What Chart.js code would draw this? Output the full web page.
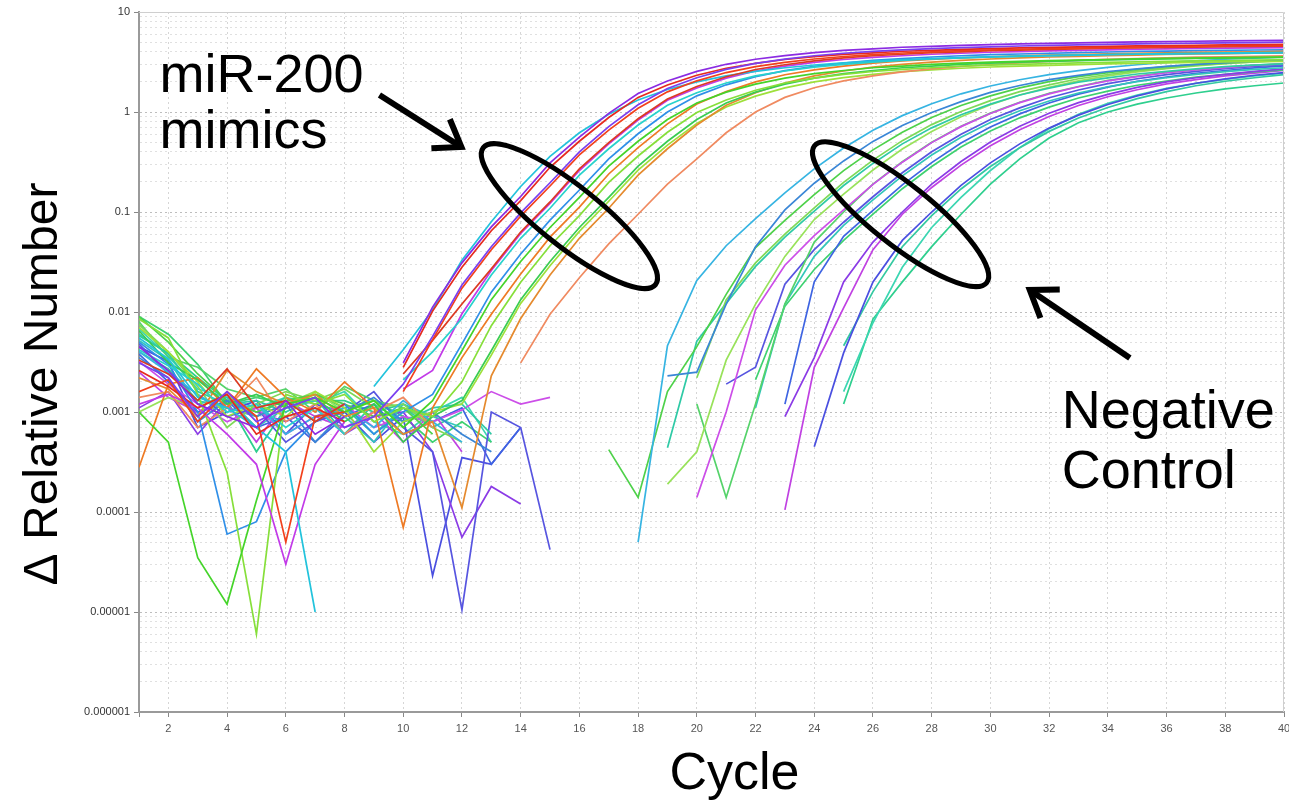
<!DOCTYPE html>
<html>
<head>
<meta charset="utf-8">
<title>miR-200 mimics vs negative control - amplification</title>
<script src="https://cdn.jsdelivr.net/npm/chart.js@4.4.1/dist/chart.umd.min.js"></script>
<style>
  html, body { margin: 0; padding: 0; background: #fff; }
  canvas { display: block; }
</style>
</head>
<body>
<canvas id="chart" width="1289" height="803"></canvas>
<script>
// x axis: PCR cycle
const cycles = [1, 2, 3, 4, 5, 6, 7, 8, 9, 10, 11, 12, 13, 14, 15, 16, 17, 18, 19, 20,
                21, 22, 23, 24, 25, 26, 27, 28, 29, 30, 31, 32, 33, 34, 35, 36, 37, 38, 39, 40];
const yTickLabels = ['0.000001', '0.00001', '0.0001', '0.001', '0.01', '0.1', '1', '10'];

// miR-200 mimic wells (delta relative number per cycle, null = not plotted)
const mimic01 = [4.5e-3, 2.6e-3, 1.2e-3, 9e-4, 7e-4, 1.3e-3, 6e-4, 9e-4, null, 0.0031, 0.0112, 0.031, 0.071, 0.143, 0.31, 0.56, 0.97, 1.53, 2.04, 2.55, 3.0, 3.37, 3.67, 3.93, 4.13, 4.28, 4.44, 4.54, 4.64, 4.71, 4.79, 4.86, 4.92, 4.97, 5.02, 5.06, 5.1, 5.14, 5.17, 5.2];
const mimic02 = [3.1e-3, 2.2e-3, 9e-4, 1.6e-3, 8e-4, 1.1e-3, 1.4e-3, 7e-4, 9e-4, 0.0019, 0.0057, 0.0186, 0.045, 0.098, 0.196, 0.40, 0.715, 1.18, 1.72, 2.2, 2.67, 3.06, 3.38, 3.65, 3.87, 4.04, 4.19, 4.31, 4.41, 4.49, 4.57, 4.64, 4.69, 4.75, 4.8, 4.84, 4.88, 4.92, 4.95, 4.99];
const mimic03 = [2.6e-3, 1.8e-3, 1.1e-3, 1.5e-3, 6e-4, 9e-4, 1.1e-3, 8e-4, null, 0.0028, 0.0102, 0.028, 0.065, 0.13, 0.28, 0.51, 0.88, 1.4, 1.86, 2.33, 2.74, 3.07, 3.35, 3.58, 3.77, 3.91, 4.05, 4.14, 4.23, 4.3, 4.37, 4.43, 4.48, 4.53, 4.58, 4.61, 4.65, 4.69, 4.72, 4.74];
const mimic04 = [1.6e-3, 2.1e-3, 8e-4, 1.6e-3, 9e-4, 5e-5, 9e-4, 1.0e-3, null, 0.0016, 0.0053, 0.0173, 0.042, 0.091, 0.182, 0.373, 0.66, 1.09, 1.59, 2.05, 2.48, 2.84, 3.14, 3.39, 3.59, 3.75, 3.89, 4.0, 4.1, 4.17, 4.24, 4.3, 4.36, 4.41, 4.46, 4.5, 4.53, 4.57, 4.6, 4.63];
const mimic05 = [3.3e-3, 2.4e-3, 1.3e-3, 2.7e-3, 1.1e-3, 1.3e-3, 8e-4, 1.2e-3, null, 0.0024, 0.0052, 0.012, 0.027, 0.063, 0.126, 0.27, 0.495, 0.855, 1.35, 1.8, 2.25, 2.66, 2.97, 3.24, 3.47, 3.65, 3.78, 3.92, 4.0, 4.1, 4.16, 4.23, 4.28, 4.34, 4.38, 4.43, 4.46, 4.5, 4.54, 4.56];
const mimic06 = [5.5e-3, 3.4e-3, 1.4e-3, 1.1e-3, 7e-4, 4e-4, 1e-5, null, 0.0018, 0.0042, 0.0105, 0.033, 0.08, 0.18, 0.36, 0.62, 0.95, 1.32, 1.68, 2.0, 2.3, 2.55, 2.77, 2.95, 3.1, 3.22, 3.33, 3.42, 3.5, 3.56, 3.62, 3.67, 3.71, 3.75, 3.78, 3.81, 3.84, 3.86, 3.88, 3.9];
const mimic07 = [4.2e-3, 2.9e-3, 1.9e-3, 1.0e-3, 1.2e-3, 7e-4, 1.1e-3, 6e-4, null, 0.0021, 0.004, 0.0086, 0.0234, 0.0546, 0.109, 0.234, 0.429, 0.741, 1.17, 1.56, 1.95, 2.3, 2.57, 2.81, 3.0, 3.16, 3.28, 3.39, 3.47, 3.55, 3.6, 3.67, 3.71, 3.76, 3.8, 3.84, 3.87, 3.9, 3.93, 3.96];
const mimic08 = [1.2e-3, 1.5e-3, 1.1e-3, 6e-4, 3e-4, 3e-5, 3e-4, 8e-4, null, 0.0017, 0.0026, 0.0096, 0.026, 0.061, 0.122, 0.26, 0.48, 0.83, 1.31, 1.74, 2.18, 2.57, 2.87, 3.13, 3.35, 3.52, 3.65, 3.78, 3.87, 3.96, 4.02, 4.09, 4.14, 4.19, 4.24, 4.28, 4.32, 4.35, 4.38, 4.41];
const mimic09 = [1.0e-3, 5e-4, 3.5e-5, 1.2e-5, 1.3e-4, 1.2e-3, 1.4e-3, 1.0e-3, 1.3e-3, 7e-4, 1.3e-3, 0.0041, 0.0133, 0.032, 0.07, 0.14, 0.287, 0.51, 0.84, 1.23, 1.58, 1.9, 2.18, 2.42, 2.6, 2.77, 2.88, 3.0, 3.08, 3.15, 3.21, 3.26, 3.31, 3.35, 3.4, 3.43, 3.46, 3.49, 3.51, 3.54];
const mimic10 = [8.5e-3, 5.5e-3, 1.5e-3, 2.5e-4, 6e-6, 1.5e-3, 1.2e-3, 1.5e-3, 8e-4, 1.1e-3, 9e-4, 0.002, 0.0073, 0.0198, 0.046, 0.092, 0.198, 0.363, 0.627, 0.99, 1.32, 1.65, 1.95, 2.18, 2.38, 2.54, 2.67, 2.77, 2.87, 2.94, 3.0, 3.05, 3.1, 3.14, 3.18, 3.21, 3.25, 3.27, 3.3, 3.33];
const mimic11 = [6.5e-3, 3.1e-3, 2.1e-3, 1.2e-3, 1.5e-3, 1.1e-3, 1.4e-3, 8e-4, 1.2e-3, 5e-4, 9e-4, 1.3e-3, 0.0041, 0.0133, 0.032, 0.07, 0.14, 0.287, 0.51, 0.84, 1.23, 1.58, 1.9, 2.18, 2.42, 2.6, 2.77, 2.88, 3.0, 3.08, 3.15, 3.21, 3.26, 3.31, 3.35, 3.4, 3.43, 3.46, 3.49, 3.51];
const mimic12 = [2.8e-4, 1.9e-3, 2.2e-3, 1.1e-3, 2.7e-3, 1.4e-3, 1.0e-3, 2.0e-3, 1.1e-3, 7e-5, 0.0011, 0.0035, 0.0095, 0.024, 0.056, 0.112, 0.24, 0.44, 0.76, 1.2, 1.6, 2.0, 2.36, 2.64, 2.88, 3.08, 3.24, 3.36, 3.48, 3.56, 3.64, 3.7, 3.76, 3.81, 3.86, 3.9, 3.94, 3.97, 4.0, 4.03];
const mimic13 = [2.2e-3, 1.7e-3, 9e-4, 2.6e-3, 1.6e-3, 1.2e-3, 1.5e-3, 9e-4, 1.1e-3, 6e-4, 8e-4, 1.1e-4, 0.0023, 0.0086, 0.0234, 0.0546, 0.109, 0.234, 0.429, 0.741, 1.17, 1.56, 1.95, 2.3, 2.57, 2.81, 3.0, 3.16, 3.28, 3.39, 3.47, 3.55, 3.6, 3.67, 3.71, 3.76, 3.8, 3.84, 3.87, 3.9];
const mimic14 = [5.0e-3, 3.0e-3, 1.0e-3, 6e-5, 8e-5, 4e-4, 8e-4, 1.2e-3, 6e-4, 1.0e-3, 0.0015, 0.0048, 0.0158, 0.038, 0.083, 0.166, 0.34, 0.606, 1.0, 1.45, 1.87, 2.26, 2.59, 2.86, 3.09, 3.28, 3.42, 3.55, 3.65, 3.74, 3.8, 3.87, 3.93, 3.98, 4.03, 4.07, 4.1, 4.13, 4.17, 4.19];
const mimic15 = [1.4e-3, 1.6e-3, 7e-4, 1.1e-3, 2.2e-3, 8e-4, 1.2e-3, 6e-4, 1.0e-3, 1.4e-3, 7e-4, null, null, 0.0031, 0.0095, 0.022, 0.048, 0.095, 0.19, 0.34, 0.62, 1.0, 1.4, 1.75, 2.05, 2.3, 2.52, 2.7, 2.85, 2.98, 3.1, 3.2, 3.28, 3.36, 3.42, 3.48, 3.53, 3.57, 3.61, 3.65];
const mimic16 = [7.0e-3, 4.0e-3, 2.0e-3, 9e-4, 1.2e-3, 9e-4, 1.6e-3, 1.1e-3, 4e-4, 8e-4, 1.0e-3, 1.2e-3, 0.0037, 0.0122, 0.029, 0.064, 0.128, 0.262, 0.467, 0.77, 1.12, 1.44, 1.74, 2.0, 2.21, 2.38, 2.53, 2.64, 2.74, 2.82, 2.88, 2.93, 2.98, 3.03, 3.07, 3.1, 3.14, 3.17, 3.19, 3.21];

// negative control wells
const control01 = [4.0e-3, 2.5e-3, 1.5e-3, 1.0e-3, 1.2e-3, 6e-4, 9e-4, 1.1e-3, 7e-4, 1.3e-3, 8e-4, 5e-4, null, null, null, null, null, 5e-5, 0.0046, 0.0207, 0.046, 0.086, 0.155, 0.27, 0.437, 0.656, 0.92, 1.21, 1.52, 1.82, 2.1, 2.36, 2.59, 2.79, 2.97, 3.13, 3.25, 3.37, 3.46, 3.55];
const control02 = [3.5e-3, 2.2e-3, 8e-4, 1.3e-3, 9e-4, 1.2e-3, 5e-4, 1.0e-3, 1.4e-3, 8e-4, 1.0e-3, 6e-4, 4e-4, null, null, null, null, null, 0.0023, 0.0025, 0.012, 0.045, 0.105, 0.194, 0.324, 0.508, 0.734, 0.99, 1.27, 1.57, 1.84, 2.11, 2.32, 2.54, 2.7, 2.86, 3.0, 3.11, 3.21, 3.29];
const control03 = [9.0e-3, 5.0e-3, 2.4e-3, 1.3e-3, 1.0e-3, 1.3e-3, 1.5e-3, 1.2e-3, 9e-4, 1.1e-3, 6e-4, null, null, null, null, null, 4.2e-4, 1.4e-4, 0.0016, 0.0045, 0.015, 0.044, 0.0825, 0.149, 0.259, 0.418, 0.627, 0.88, 1.16, 1.45, 1.74, 2.01, 2.26, 2.48, 2.67, 2.84, 2.99, 3.11, 3.22, 3.31];
const control04 = [7.5e-3, 4.0e-3, 1.8e-3, 7e-4, 1.2e-3, 1.6e-3, 1.3e-3, 1.7e-3, 1.1e-3, 1.2e-3, 7e-4, 5e-4, null, null, null, null, null, null, null, 0.0022, 0.0132, 0.031, 0.06, 0.11, 0.198, 0.33, 0.517, 0.748, 1.01, 1.3, 1.6, 1.87, 2.15, 2.37, 2.59, 2.75, 2.92, 3.06, 3.17, 3.27];
const control05 = [6.0e-3, 3.8e-3, 1.6e-3, 1.2e-3, 1.3e-3, 1.0e-3, 1.4e-3, 6e-4, 1.2e-3, 8e-4, 1.1e-3, 1.2e-3, 6e-4, null, null, null, null, null, 4.4e-4, 0.0051, 0.0122, 0.0286, 0.056, 0.102, 0.184, 0.306, 0.48, 0.694, 0.94, 1.2, 1.48, 1.73, 1.99, 2.19, 2.4, 2.55, 2.7, 2.84, 2.94, 3.03];
const control06 = [1.0e-3, 1.4e-3, 1.1e-3, 1.5e-3, 9e-4, 1.2e-3, 1.6e-3, 1.0e-3, 1.3e-3, 7e-4, null, null, null, null, null, null, null, null, 1.9e-4, 4e-4, 0.0033, 0.012, 0.036, 0.084, 0.151, 0.263, 0.426, 0.638, 0.896, 1.18, 1.48, 1.77, 2.05, 2.3, 2.52, 2.72, 2.89, 3.05, 3.17, 3.28];
const control07 = [3.2e-3, 1.9e-3, 1.2e-3, 8e-4, 1.1e-3, 6e-4, 9e-4, 1.2e-3, 7e-4, 9e-4, 8e-4, 1.05e-3, 1.6e-3, 1.2e-3, 1.4e-3, null, null, null, null, 1.4e-4, 0.001, 0.0105, 0.0294, 0.058, 0.105, 0.189, 0.315, 0.494, 0.714, 0.966, 1.24, 1.52, 1.79, 2.05, 2.26, 2.47, 2.63, 2.78, 2.92, 3.02];
const control08 = [8.0e-3, 3.5e-3, 2.8e-3, 1.7e-3, 1.4e-3, 1.7e-3, 1.0e-3, 1.8e-3, 1.3e-3, 1.1e-3, 8e-4, null, null, null, null, null, null, null, null, 0.0012, 1.4e-4, 0.0012, 0.012, 0.05, 0.1, 0.19, 0.318, 0.498, 0.72, 0.975, 1.25, 1.54, 1.8, 2.07, 2.28, 2.49, 2.65, 2.81, 2.95, 3.05];
const control09 = [4.8e-3, 2.4e-3, 1.5e-3, 9e-4, 1.1e-3, 5e-4, 8e-4, 1.0e-3, 1.6e-3, 7e-4, 4e-4, 1.05e-5, 1.0e-3, 7e-4, 4.2e-5, null, null, null, null, null, 0.0019, 0.0028, 0.019, 0.042, 0.079, 0.142, 0.247, 0.4, 0.6, 0.84, 1.1, 1.39, 1.66, 1.92, 2.15, 2.36, 2.55, 2.71, 2.86, 2.97];
const control10 = [5.2e-3, 3.3e-3, 1.2e-3, 1.4e-3, 7e-4, 1.1e-3, 1.3e-3, 9e-4, 5e-4, 1.2e-3, 9e-4, 7e-4, null, null, null, null, null, null, null, null, null, 0.0011, 0.012, 0.036, 0.0735, 0.132, 0.23, 0.372, 0.559, 0.784, 1.03, 1.29, 1.55, 1.79, 2.01, 2.2, 2.38, 2.53, 2.67, 2.77];
const control11 = [3.8e-3, 2.0e-3, 1.0e-3, 1.3e-3, 7e-4, 9e-4, 5e-4, 9e-4, 1.2e-3, 6e-4, 8e-4, 1.1e-3, 3e-4, 7e-4, null, null, null, null, null, null, null, null, 0.0012, 0.02, 0.057, 0.104, 0.187, 0.312, 0.489, 0.707, 0.957, 1.23, 1.51, 1.77, 2.03, 2.24, 2.44, 2.6, 2.76, 2.89];
const control12 = [1.1e-3, 1.6e-3, 6e-4, 1.3e-3, 1.0e-3, 8e-4, 1.1e-3, 6e-4, 9e-4, 1.0e-3, 4e-4, 5.6e-5, 1.8e-4, 1.2e-4, null, null, null, null, null, null, null, null, 0.0009, 0.0035, 0.02, 0.05, 0.1, 0.19, 0.32, 0.5, 0.72, 0.97, 1.24, 1.5, 1.76, 2.0, 2.2, 2.38, 2.55, 2.7];
const control13 = [9.0e-3, 6.0e-3, 3.0e-3, 1.2e-3, 1.4e-3, 1.2e-3, 1.5e-3, 1.1e-3, 1.3e-3, 9e-4, 5e-4, 8e-4, 5e-4, null, null, null, null, null, null, null, null, 0.0021, 0.0114, 0.0266, 0.052, 0.095, 0.171, 0.285, 0.447, 0.646, 0.874, 1.12, 1.38, 1.62, 1.85, 2.04, 2.23, 2.38, 2.52, 2.64];
const control14 = [2.5e-3, 1.4e-3, 1.0e-3, 1.2e-3, 5e-4, 1.3e-3, 9e-4, 7e-4, 1.0e-3, 5e-4, 1.0e-3, 4e-4, null, null, null, null, null, null, null, null, null, null, 1.05e-4, 0.0028, 0.011, 0.042, 0.095, 0.176, 0.294, 0.46, 0.666, 0.9, 1.16, 1.42, 1.67, 1.91, 2.11, 2.3, 2.45, 2.6];
const control15 = [4.5e-3, 3.2e-3, 7e-4, 1.0e-3, 1.3e-3, 6e-4, 1.2e-3, 1.0e-3, 5e-4, 9e-4, 2.3e-5, 3.5e-4, 3e-4, 7e-4, null, null, null, null, null, null, null, null, null, 4.5e-4, 0.0039, 0.02, 0.052, 0.1, 0.185, 0.31, 0.48, 0.69, 0.93, 1.19, 1.45, 1.7, 1.94, 2.14, 2.33, 2.48];
const control16 = [4.0e-3, 2.7e-3, 1.3e-3, 1.1e-3, 9e-4, 1.4e-3, 8e-4, 1.1e-3, 6e-4, 1.1e-3, 7e-4, 1.0e-3, null, null, null, null, null, null, null, null, null, null, null, null, 0.0046, 0.016, 0.045, 0.092, 0.17, 0.285, 0.44, 0.64, 0.87, 1.11, 1.36, 1.6, 1.83, 2.03, 2.2, 2.36];
const control17 = [6.8e-3, 3.6e-3, 1.7e-3, 1.4e-3, 1.1e-3, 1.4e-3, 1.2e-3, 1.6e-3, 8e-4, 6e-4, 1.0e-3, 1.4e-3, 5e-4, null, null, null, null, null, null, null, null, null, null, null, 0.0016, 0.0078, 0.028, 0.07, 0.14, 0.26, 0.44, 0.68, 0.95, 1.22, 1.48, 1.72, 1.93, 2.12, 2.3, 2.45];
const control18 = [5.8e-3, 3.9e-3, 2.2e-3, 1.3e-3, 4e-4, 1.1e-3, 1.3e-3, 1.3e-3, 1.0e-3, 1.2e-3, 8e-4, null, null, null, null, null, null, null, null, null, null, null, null, null, 0.0012, 0.0085, 0.02, 0.045, 0.095, 0.19, 0.34, 0.55, 0.78, 1.0, 1.2, 1.38, 1.55, 1.7, 1.83, 1.95];

const mimicSeries = [mimic01, mimic02, mimic03, mimic04, mimic05, mimic06, mimic07, mimic08,
                     mimic09, mimic10, mimic11, mimic12, mimic13, mimic14, mimic15, mimic16];
const mimicColors = ['#8b2be2', '#7a3ff0', '#e62a1e', '#f2401c', '#dc3a22', '#22c3dc', '#28d2cc', '#c23ae8',
                     '#45d42a', '#86df3a', '#38cc52', '#ee7a24', '#e58a2e', '#2f8fe8', '#f08a60', '#9ee03a'];
const controlSeries = [control01, control02, control03, control04, control05, control06, control07, control08, control09,
                       control10, control11, control12, control13, control14, control15, control16, control17, control18];
const controlColors = ['#36b4e2', '#3a86d6', '#4ed14a', '#7ed957', '#2fcaa6', '#98e25a', '#cc4ee8', '#55d36a', '#5755e0',
                       '#33c6b9', '#3e64e2', '#8b3be6', '#3dd170', '#c041e2', '#4a4fe0', '#34c9a1', '#3bd6b2', '#2ecf8e'];

// annotation marks, anchored in data space (cycle, value)
const ellipses = [
  { cycle: 15.66, value: 0.091, rx: 110, ry: 30, angle: 38.5 },
  { cycle: 26.94, value: 0.095, rx: 110, ry: 30, angle: 38.5 }
];
const arrows = [
  { from: [9.19, 1.48], to: [11.98, 0.447] },
  { from: [34.75, 0.00347], to: [31.34, 0.0166] }
];
const notes = [
  { text: 'miR-200', cycle: 1.70, value: 1.58 },
  { text: 'mimics', cycle: 1.70, value: 0.437 },
  { text: 'Negative', cycle: 32.43, value: 6.9e-4 },
  { text: 'Control', cycle: 32.43, value: 1.74e-4 }
];

const FONT = '"Liberation Sans", Arial, sans-serif';

const datasets = [];
mimicSeries.forEach((d, i) => datasets.push({ label: 'miR-200 ' + (i + 1), data: d, borderColor: mimicColors[i] }));
controlSeries.forEach((d, i) => datasets.push({ label: 'Negative control ' + (i + 1), data: d, borderColor: controlColors[i] }));

const isDecade = v => Math.abs(Math.log10(v) - Math.round(Math.log10(v))) < 1e-6;

const annotate = {
  id: 'annotate',
  afterDraw(chart) {
    const { ctx, chartArea: a, scales: { x, y } } = chart;
    ctx.save();
    // light frame on top and right
    ctx.strokeStyle = '#cfcfcf';
    ctx.lineWidth = 1;
    ctx.beginPath();
    ctx.moveTo(a.left, a.top + 0.5);
    ctx.lineTo(a.right - 0.5, a.top + 0.5);
    ctx.lineTo(a.right - 0.5, a.bottom);
    ctx.stroke();

    ctx.strokeStyle = '#000';
    ctx.lineWidth = 5;
    ellipses.forEach(e => {
      ctx.beginPath();
      ctx.ellipse(x.getPixelForValue(e.cycle), y.getPixelForValue(e.value), e.rx, e.ry, e.angle * Math.PI / 180, 0, Math.PI * 2);
      ctx.stroke();
    });

    ctx.lineWidth = 6;
    ctx.lineJoin = 'miter';
    arrows.forEach(ar => {
      const x0 = x.getPixelForValue(ar.from[0]), y0 = y.getPixelForValue(ar.from[1]);
      const x1 = x.getPixelForValue(ar.to[0]), y1 = y.getPixelForValue(ar.to[1]);
      const back = Math.atan2(y0 - y1, x0 - x1);
      const head = 30, spread = 35 * Math.PI / 180;
      ctx.beginPath();
      ctx.moveTo(x0, y0);
      ctx.lineTo(x1, y1);
      ctx.stroke();
      ctx.beginPath();
      ctx.moveTo(x1 + head * Math.cos(back - spread), y1 + head * Math.sin(back - spread));
      ctx.lineTo(x1, y1);
      ctx.lineTo(x1 + head * Math.cos(back + spread), y1 + head * Math.sin(back + spread));
      ctx.stroke();
    });

    ctx.fillStyle = '#000';
    ctx.textAlign = 'left';
    ctx.textBaseline = 'alphabetic';
    ctx.font = '54px ' + FONT;
    notes.forEach(n => ctx.fillText(n.text, x.getPixelForValue(n.cycle), y.getPixelForValue(n.value)));

    // axis titles
    ctx.textAlign = 'center';
    ctx.font = '52px ' + FONT;
    ctx.fillText('Cycle', (a.left + a.right) / 2 + 23, a.bottom + 77);
    ctx.translate(a.left - 82, (a.top + a.bottom) / 2 + 22);
    ctx.rotate(-Math.PI / 2);
    ctx.font = '48px ' + FONT;
    ctx.fillText('\u0394 Relative Number', 0, 0);
    ctx.restore();
  }
};

new Chart(document.getElementById('chart'), {
  type: 'line',
  data: { labels: cycles, datasets: datasets },
  options: {
    responsive: false,
    animation: false,
    devicePixelRatio: 1,
    layout: { padding: { top: 12, right: 5, left: 0, bottom: 0 } },
    elements: {
      line: { borderWidth: 1.7, tension: 0 },
      point: { radius: 0, hoverRadius: 0 }
    },
    spanGaps: false,
    plugins: { legend: { display: false }, tooltip: { enabled: false } },
    scales: {
      x: {
        type: 'linear',
        min: 1,
        max: 40,
        afterFit: s => { s.height = 91; s.paddingRight = 0; s.paddingLeft = 0; },
        ticks: {
          stepSize: 2,
          autoSkip: false,
          maxRotation: 0,
          padding: 5,
          color: '#555',
          font: { family: FONT, size: 11 },
          callback: v => (v % 2 === 0 ? String(v) : '')
        },
        grid: { color: '#d6d6d6', tickLength: 5, tickColor: '#888', tickBorderDash: [] },
        border: { display: true, color: '#9a9a9a', width: 2, dash: [2, 3] }
      },
      y: {
        type: 'logarithmic',
        min: 1e-6,
        max: 10,
        afterFit: s => { s.width = 139; s.paddingTop = 0; s.paddingBottom = 0; },
        afterBuildTicks: s => {
          s.ticks = s.ticks.filter(t => {
            const m = t.value / Math.pow(10, Math.floor(Math.log10(t.value) + 1e-9));
            return Math.abs(m - Math.round(m)) < 1e-6;
          });
        },
        ticks: {
          autoSkip: false,
          padding: 4,
          color: '#333',
          font: { family: FONT, size: 11 },
          callback: v => (isDecade(v) ? yTickLabels[Math.round(Math.log10(v)) + 6] : '')
        },
        grid: {
          color: ctx => (ctx.tick && isDecade(ctx.tick.value) ? '#bdbdbd' : '#e0e0e0'),
          tickLength: 5,
          tickColor: ctx => (ctx.tick && isDecade(ctx.tick.value) ? '#888' : 'rgba(0,0,0,0)'),
          tickBorderDash: []
        },
        border: { display: true, color: '#9a9a9a', width: 2, dash: [2, 3] }
      }
    }
  },
  plugins: [annotate]
});
</script>
</body>
</html>
